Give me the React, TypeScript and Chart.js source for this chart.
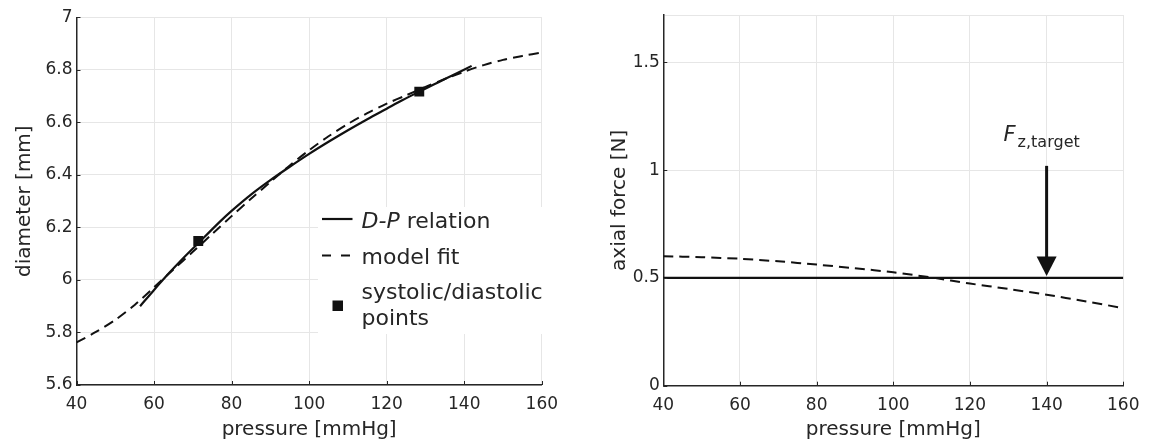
import React, { useEffect, useRef } from 'react';
import { Chart, registerables } from 'chart.js';
Chart.register(...registerables);

const FONT = "'DejaVu Sans', 'Liberation Sans', Arial, sans-serif";
const INK = '#111111';
const AXIS = '#262626';
const GRID = '#e6e6e6';

// ---- Left panel: diameter vs pressure ----
const X_TICKS = [40, 60, 80, 100, 120, 140, 160];
const D_TICKS = [5.6, 5.8, 6, 6.2, 6.4, 6.6, 6.8, 7];

const DP_PRESSURE = [56.4, 60, 64, 68, 71.4, 77, 80, 85, 90, 95, 100, 105, 110, 115, 120, 124, 128.4, 132, 135, 138.5, 141.9];
const DP_DIAMETER = [5.9, 5.962, 6.028, 6.09, 6.14, 6.222, 6.263, 6.325, 6.38, 6.431, 6.48, 6.526, 6.57, 6.612, 6.652, 6.684, 6.717, 6.743, 6.765, 6.79, 6.815];

const FIT_PRESSURE = [40, 45, 50, 55, 60, 65, 70, 75, 80, 85, 90, 95, 100, 105, 110, 115, 120, 125, 130, 135, 140, 145, 150, 155, 160];
const FIT_DIAMETER = [5.762, 5.802, 5.848, 5.905, 5.972, 6.04, 6.107, 6.175, 6.243, 6.309, 6.373, 6.436, 6.494, 6.547, 6.594, 6.635, 6.671, 6.703, 6.735, 6.765, 6.793, 6.818, 6.838, 6.853, 6.866];

const SD_PRESSURE = [71.4, 128.4];
const SD_DIAMETER = [6.148, 6.717];

// ---- Right panel: axial force vs pressure ----
const F_TICKS = [0, 0.5, 1, 1.5];
const F_MAX = 1.72;
const FORCE_PRESSURE = [40, 50, 60, 70, 80, 90, 100, 110, 120, 130, 140, 150, 160];
const FORCE_MODEL = [0.601, 0.596, 0.589, 0.577, 0.562, 0.545, 0.526, 0.502, 0.474, 0.449, 0.422, 0.392, 0.36];
const TARGET_PRESSURE = [40, 160];
const TARGET_FORCE = [0.5, 0.5];
const ARROW_P = 140;
const ARROW_FROM = 1.02;
const ARROW_TO = 0.5;

const pts = (xs: number[], ys: number[]) => xs.map((x, i) => ({ x, y: ys[i] }));
const fmt = (v: number) => String(Number(v.toFixed(2)));

const innerTicks = {
  id: 'innerTicks',
  afterDraw(chart: any) {
    const { ctx, chartArea, scales } = chart;
    ctx.save();
    ctx.strokeStyle = AXIS;
    ctx.lineWidth = 1;
    ctx.beginPath();
    scales.x.ticks.forEach((t: any) => {
      const px = Math.round(scales.x.getPixelForValue(t.value)) + 0.5;
      ctx.moveTo(px, chartArea.bottom);
      ctx.lineTo(px, chartArea.bottom - 4);
    });
    scales.y.ticks.forEach((t: any) => {
      if (t.label === '') return;
      const py = Math.round(scales.y.getPixelForValue(t.value)) + 0.5;
      ctx.moveTo(chartArea.left, py);
      ctx.lineTo(chartArea.left + 4, py);
    });
    ctx.stroke();
    ctx.restore();
  },
};

const legendPlugin = {
  id: 'dpLegend',
  afterDraw(chart: any) {
    const ctx = chart.ctx;
    ctx.save();
    ctx.fillStyle = '#ffffff';
    ctx.fillRect(318, 207, 232, 127);
    ctx.strokeStyle = INK;
    ctx.fillStyle = INK;
    ctx.lineWidth = 2.2;
    ctx.beginPath();
    ctx.moveTo(322, 219);
    ctx.lineTo(352.5, 219);
    ctx.stroke();
    ctx.lineWidth = 2;
    ctx.setLineDash([9, 10]);
    ctx.beginPath();
    ctx.moveTo(322, 255.5);
    ctx.lineTo(352.5, 255.5);
    ctx.stroke();
    ctx.setLineDash([]);
    ctx.fillRect(332.5, 300.5, 10.5, 10.5);
    ctx.fillStyle = AXIS;
    ctx.textBaseline = 'alphabetic';
    ctx.textAlign = 'left';
    ctx.font = `italic 22px ${FONT}`;
    ctx.fillText('D-P', 361.5, 228);
    const w = ctx.measureText('D-P').width;
    ctx.font = `22px ${FONT}`;
    ctx.fillText(' relation', 361.5 + w, 228);
    ctx.fillText('model fit', 361.5, 264);
    ctx.fillText('systolic/diastolic', 361.5, 299);
    ctx.fillText('points', 361.5, 325);
    ctx.restore();
  },
};

const arrowPlugin = {
  id: 'fzArrow',
  afterDatasetsDraw(chart: any) {
    const { ctx, scales } = chart;
    const px = scales.x.getPixelForValue(ARROW_P);
    const yTop = scales.y.getPixelForValue(ARROW_FROM);
    const yTip = scales.y.getPixelForValue(ARROW_TO) - 2;
    ctx.save();
    ctx.strokeStyle = INK;
    ctx.fillStyle = INK;
    ctx.lineWidth = 3;
    ctx.beginPath();
    ctx.moveTo(px, yTop);
    ctx.lineTo(px, yTip - 17);
    ctx.stroke();
    ctx.beginPath();
    ctx.moveTo(px - 10, yTip - 19.5);
    ctx.lineTo(px + 10, yTip - 19.5);
    ctx.lineTo(px, yTip);
    ctx.closePath();
    ctx.fill();
    ctx.fillStyle = AXIS;
    ctx.textBaseline = 'alphabetic';
    ctx.textAlign = 'left';
    ctx.font = `italic 21px ${FONT}`;
    ctx.fillText('F', px - 43, yTop - 24.5);
    ctx.font = `16px ${FONT}`;
    ctx.fillText('z,target', px - 29, yTop - 19);
    ctx.restore();
  },
};

const tickFont = { family: FONT, size: 17 };
const titleFont = { family: FONT, size: 20 };

function xScale(height: number) {
  return {
    type: 'linear',
    min: 40,
    max: 160,
    afterBuildTicks: (s: any) => {
      s.ticks = X_TICKS.map((v) => ({ value: v }));
    },
    afterFit: (s: any) => {
      s.height = height;
    },
    ticks: { font: tickFont, color: AXIS, padding: 9.5, maxRotation: 0, autoSkip: false, callback: (v: any) => fmt(Number(v)) },
    grid: { color: GRID, lineWidth: 1, drawTicks: false },
    border: { color: AXIS, width: 1.5 },
    title: { display: true, text: 'pressure [mmHg]', font: titleFont, color: AXIS, padding: { top: 0, bottom: 4 } },
  };
}

export default function App() {
  const leftRef = useRef<HTMLCanvasElement | null>(null);
  const rightRef = useRef<HTMLCanvasElement | null>(null);

  useEffect(() => {
    const left = new Chart(leftRef.current as HTMLCanvasElement, {
      type: 'line',
      data: {
        datasets: [
          {
            label: 'D-P relation',
            data: pts(DP_PRESSURE, DP_DIAMETER),
            borderColor: INK,
            borderWidth: 2.2,
            pointRadius: 0,
            tension: 0.3,
            fill: false,
          },
          {
            label: 'model fit',
            data: pts(FIT_PRESSURE, FIT_DIAMETER),
            borderColor: INK,
            borderWidth: 2,
            borderDash: [10, 6],
            pointRadius: 0,
            tension: 0.3,
            fill: false,
          },
          {
            label: 'systolic/diastolic points',
            data: pts(SD_PRESSURE, SD_DIAMETER),
            showLine: false,
            pointStyle: 'rect',
            pointRadius: 7,
            pointBackgroundColor: INK,
            pointBorderWidth: 0,
            borderColor: INK,
          },
        ],
      } as any,
      options: {
        responsive: false,
        animation: false,
        layout: { padding: { top: 17.3, right: 32.2, bottom: 0, left: 0 } },
        plugins: { legend: { display: false }, tooltip: { enabled: false } },
        scales: {
          x: xScale(61) as any,
          y: {
            type: 'linear',
            min: 5.6,
            max: 7,
            afterBuildTicks: (s: any) => {
              s.ticks = D_TICKS.map((v) => ({ value: v }));
            },
            afterFit: (s: any) => {
              s.width = 76.5;
            },
            ticks: { font: tickFont, color: AXIS, padding: 4, autoSkip: false, callback: (v: any) => fmt(Number(v)) },
            grid: { color: GRID, lineWidth: 1, drawTicks: false },
            border: { color: AXIS, width: 1.5 },
            title: { display: true, text: 'diameter [mm]', font: titleFont, color: AXIS, padding: { top: 12.6, bottom: 0 } },
          } as any,
        },
      },
      plugins: [innerTicks, legendPlugin],
    });

    const right = new Chart(rightRef.current as HTMLCanvasElement, {
      type: 'line',
      data: {
        datasets: [
          {
            label: 'target',
            data: pts(TARGET_PRESSURE, TARGET_FORCE),
            borderColor: INK,
            borderWidth: 2.2,
            pointRadius: 0,
            fill: false,
          },
          {
            label: 'model',
            data: pts(FORCE_PRESSURE, FORCE_MODEL),
            borderColor: INK,
            borderWidth: 2,
            borderDash: [10, 6],
            pointRadius: 0,
            tension: 0.3,
            fill: false,
          },
        ],
      } as any,
      options: {
        responsive: false,
        animation: false,
        layout: { padding: { top: 15, right: 21.2, bottom: 0, left: 0 } },
        plugins: { legend: { display: false }, tooltip: { enabled: false } },
        scales: {
          x: xScale(60.3) as any,
          y: {
            type: 'linear',
            min: 0,
            max: F_MAX,
            afterBuildTicks: (s: any) => {
              s.ticks = [...F_TICKS, F_MAX].map((v) => ({ value: v }));
            },
            afterFit: (s: any) => {
              s.width = 89.3;
            },
            ticks: {
              font: tickFont,
              color: AXIS,
              padding: 3.5,
              autoSkip: false,
              callback: (v: any) => (F_TICKS.includes(Number(v)) ? fmt(Number(v)) : ''),
            },
            grid: { color: GRID, lineWidth: 1, drawTicks: false },
            border: { color: AXIS, width: 1.5 },
            title: { display: true, text: 'axial force [N]', font: titleFont, color: AXIS, padding: { top: 34, bottom: 0 } },
          } as any,
        },
      },
      plugins: [innerTicks, arrowPlugin],
    });

    return () => {
      left.destroy();
      right.destroy();
    };
  }, []);

  return (
    <div style={{ position: 'absolute', left: 0, top: 0, width: 1149, height: 446, background: '#ffffff', overflow: 'hidden' }}>
      <canvas ref={leftRef} width={574} height={446} style={{ position: 'absolute', left: 0, top: 0, width: 574, height: 446 }} />
      <canvas ref={rightRef} width={575} height={446} style={{ position: 'absolute', left: 574, top: 0, width: 575, height: 446 }} />
    </div>
  );
}
